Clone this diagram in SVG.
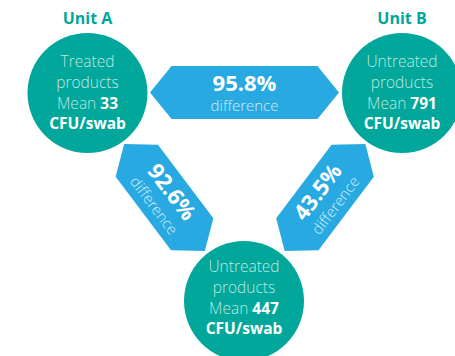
<svg xmlns="http://www.w3.org/2000/svg" width="455" height="356" viewBox="0 0 455 356">
<style>
.node{fill:#00a79a}
.arr{fill:#29a9e1}
.lt{font-family:"Open Sans","Noto Sans",sans-serif;font-weight:300;fill:#bfe8e2;font-size:15.5px;text-anchor:middle}
.bd{font-family:"Open Sans","Noto Sans",sans-serif;font-weight:700;fill:#ffffff}
.unit{font-family:"Open Sans","Noto Sans",sans-serif;font-weight:700;fill:#00a79a;font-size:16px;text-anchor:middle}
.pct{font-family:"Open Sans","Noto Sans",sans-serif;font-weight:700;fill:#ffffff;font-size:22px;text-anchor:middle}
.dif{font-family:"Open Sans","Noto Sans",sans-serif;font-weight:300;fill:#d2eefa;font-size:15px;text-anchor:middle}
</style>
<g id="connectors">
  <g id="arrow-ab" transform="translate(244.5,92.5)">
    <polygon class="arr" points="-94.5,0 -73,-26.5 73,-26.5 94.5,0 73,26.5 -73,26.5"/>
    <text class="pct" y="-1.5">95.8%</text>
    <text class="dif" y="18.5">difference</text>
  </g>
  <g id="arrow-ac" transform="translate(164.5,197.5) rotate(53)">
    <polygon class="arr" points="-67,0 -46,-26.5 46,-26.5 67,0 46,26.5 -46,26.5"/>
    <text class="pct" y="-1.5">92.6%</text>
    <text class="dif" y="18.5">difference</text>
  </g>
  <g id="arrow-bc" transform="translate(325,197.5) rotate(-53)">
    <polygon class="arr" points="-67,0 -46,-26.5 46,-26.5 67,0 46,26.5 -46,26.5"/>
    <text class="pct" y="-1.5">43.5%</text>
    <text class="dif" y="18.5">difference</text>
  </g>
</g>
<g id="unitA">
  <text class="unit" x="87.5" y="24">Unit A</text>
  <circle class="node" cx="87.5" cy="93" r="60"/>
  <text class="lt" x="87.5" y="67">Treated</text>
  <text class="lt" x="87.5" y="88">products</text>
  <text class="lt" x="87.5" y="109">Mean <tspan class="bd">33</tspan></text>
  <text class="lt bd" x="87.5" y="129">CFU/swab</text>
</g>
<g id="unitB">
  <text class="unit" x="402" y="24">Unit B</text>
  <circle class="node" cx="402" cy="93" r="60"/>
  <text class="lt" x="402" y="67">Untreated</text>
  <text class="lt" x="402" y="88">products</text>
  <text class="lt" x="402" y="109">Mean <tspan class="bd">791</tspan></text>
  <text class="lt bd" x="402" y="129">CFU/swab</text>
</g>
<g id="unitC">
  <circle class="node" cx="244" cy="301" r="60"/>
  <text class="lt" x="244" y="272">Untreated</text>
  <text class="lt" x="244" y="293">products</text>
  <text class="lt" x="244" y="314">Mean <tspan class="bd">447</tspan></text>
  <text class="lt bd" x="244" y="334">CFU/swab</text>
</g>
</svg>
